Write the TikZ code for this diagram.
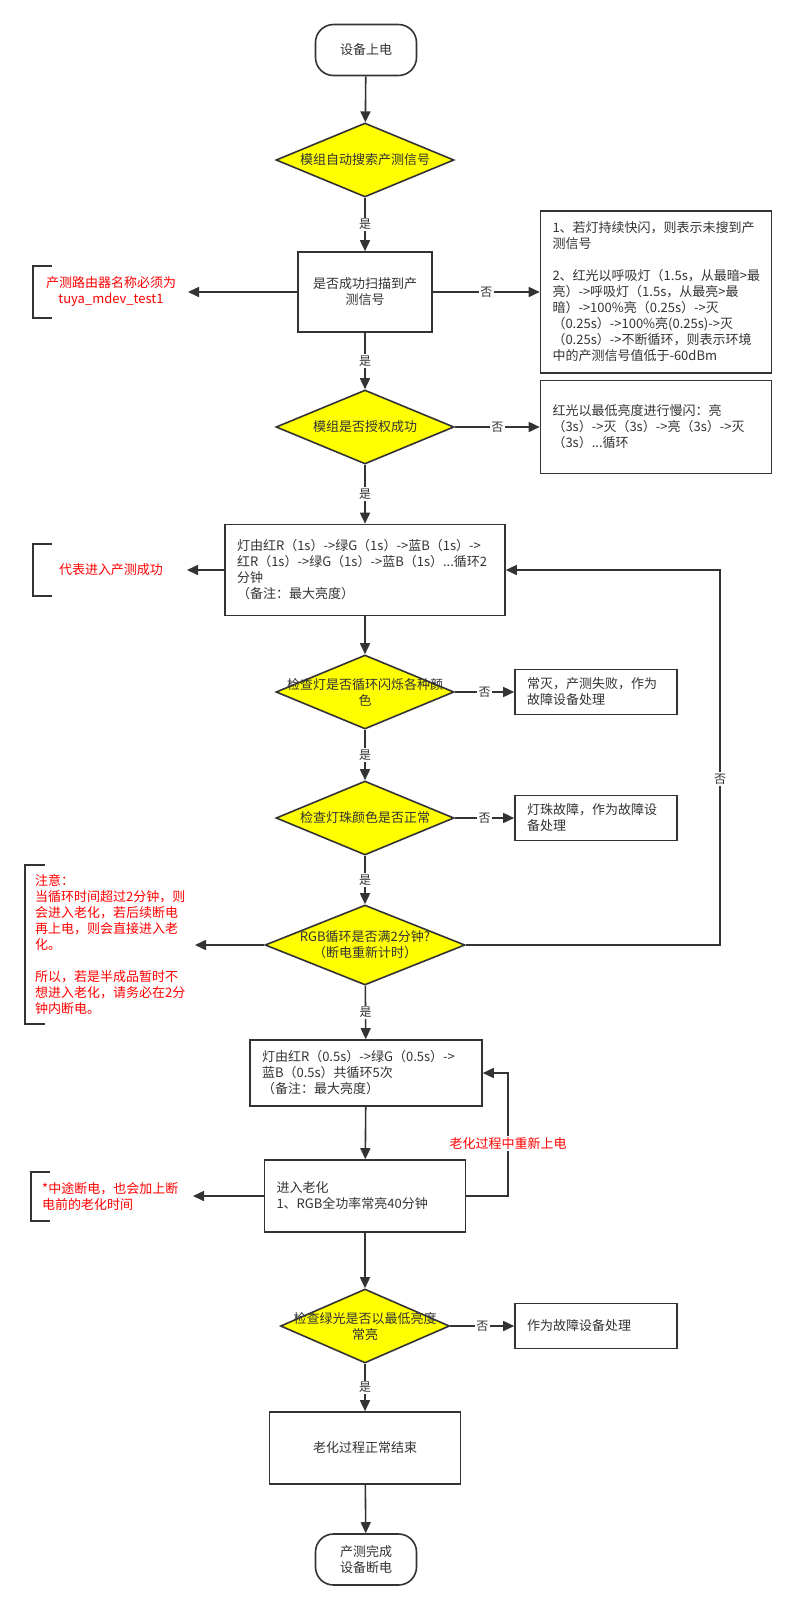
\documentclass[tikz,border=0pt]{standalone}
\usepackage{fontspec}
\setmainfont{Noto Sans CJK SC}
\usetikzlibrary{arrows.meta,shapes.geometric,calc}
\definecolor{lc}{HTML}{333333}
\definecolor{yel}{HTML}{FFFF00}
\definecolor{redt}{HTML}{FF0000}
\begin{document}
\begin{tikzpicture}[x=1pt,y=-1pt,
  every node/.style={font=\fontsize{13}{16}\selectfont, text=lc},
  ln/.style={draw=lc, line width=1.6pt},
  arr/.style={ln, -{Triangle[length=11pt,width=10pt]}},
  cbox/.style 2 args={draw=lc, line width=1.6pt, fill=white, inner sep=0pt, minimum width=#1, minimum height=#2, align=center},
  lbox/.style 2 args={draw=lc, line width=1.6pt, fill=white, inner xsep=12pt, inner ysep=0pt, text width=#1, minimum height=#2, align=left},
  decide/.style 2 args={diamond, draw=lc, fill=yel, line width=1.6pt, inner sep=0pt, minimum width=#1, minimum height=#2},
  dtext/.style={align=center, inner sep=0pt},
  term/.style={draw=lc, line width=1.6pt, fill=white, rounded corners=18pt, minimum width=101pt, minimum height=51pt, align=center, inner sep=0pt},
  yn/.style={fill=white, inner sep=1.5pt, font=\fontsize{12}{14}\selectfont},
  rednote/.style={text=redt, inner sep=0pt},
  brk/.style={draw=lc, line width=1.6pt}
]
\fill[white] (0,0) rectangle (796,1610);
\useasboundingbox (0,0) rectangle (796,1610);

% main column
\node[term] (start) at (366,50) {设备上电};
\node[decide={178pt}{74pt}] (d1) at (365,160) {};
\node[dtext] (d1t) at (d1) {模组自动搜索产测信号};
\node[cbox={134pt}{80pt}] (b1) at (365,292) {是否成功扫描到产\\测信号};
\node[decide={178pt}{74pt}] (d2) at (365,427) {};
\node[dtext] (d2t) at (d2) {模组是否授权成功};
\node[lbox={256pt}{91pt}] (b3) at (365,570) {灯由红R（1s）->绿G（1s）->蓝B（1s）->\\红R（1s）->绿G（1s）->蓝B（1s）...循环2\\分钟\\（备注：最大亮度）};
\node[decide={178pt}{74pt}] (d3) at (365,692) {};
\node[dtext] (d3t) at (d3) {检查灯是否循环闪烁各种颜\\色};
\node[decide={178pt}{74pt}] (d4) at (365,818) {};
\node[dtext] (d4t) at (d4) {检查灯珠颜色是否正常};
\node[decide={200pt}{80pt}] (d5) at (365,945) {};
\node[dtext] (d5t) at (d5) {RGB循环是否满2分钟?\\（断电重新计时）};
\node[lbox={208pt}{66pt}] (b5) at (366,1073) {灯由红R（0.5s）->绿G（0.5s）->\\蓝B（0.5s）共循环5次\\（备注：最大亮度）};
\node[lbox={177pt}{72pt}] (b6) at (365,1196) {进入老化\\1、RGB全功率常亮40分钟};
\node[decide={169pt}{74pt}] (d6) at (365,1326) {};
\node[dtext] (d6t) at (d6) {检查绿光是否以最低亮度\\常亮};
\node[cbox={191pt}{72pt}] (b7) at (365,1448) {老化过程正常结束};
\node[term] (end) at (366,1559.5) {产测完成\\设备断电};

% right boxes
\node[lbox={207pt}{162pt}] (r1) at (656,292) {1、若灯持续快闪，则表示未搜到产\\测信号\\[16pt]2、红光以呼吸灯（1.5s，从最暗>最\\亮）->呼吸灯（1.5s，从最亮>最\\暗）->100\%亮（0.25s）->灭\\（0.25s）->100\%亮(0.25s)->灭\\（0.25s）->不断循环，则表示环境\\中的产测信号值低于-60dBm};
\node[lbox={207pt}{93pt}] (r2) at (656,427) {红光以最低亮度进行慢闪：亮\\（3s）->灭（3s）->亮（3s）->灭\\（3s）...循环};
\node[lbox={138pt}{45pt}] (r3) at (596,692) {常灭，产测失败，作为\\故障设备处理};
\node[lbox={138pt}{45pt}] (r4) at (596,818) {灯珠故障，作为故障设\\备处理};
\node[lbox={138pt}{45pt}] (r6) at (596,1326) {作为故障设备处理};

% left notes
\draw[brk] (52,266) -- (33,266) -- (33,318) -- (52,318);
\node[rednote, align=center] (a1t) at (111,292) {产测路由器名称必须为\\tuya\_mdev\_test1};
\draw[brk] (52,544) -- (33,544) -- (33,596) -- (52,596);
\node[rednote] (a2t) at (111,570) {代表进入产测成功};
\draw[brk] (45,865) -- (25,865) -- (25,1024) -- (45,1024);
\node[rednote, align=left, anchor=west] (a3t) at (35,944.5) {注意：\\当循环时间超过2分钟，则\\会进入老化，若后续断电\\再上电，则会直接进入老\\化。\\[16pt]所以，若是半成品暂时不\\想进入老化，请务必在2分\\钟内断电。};
\draw[brk] (50,1172) -- (31,1172) -- (31,1221) -- (50,1221);
\node[rednote, align=left, anchor=west] (a4t) at (42,1196) {*中途断电，也会加上断\\电前的老化时间};

\coordinate (e1) at (188,292);
\coordinate (e2) at (187,570);
\coordinate (e3) at (195,945);
\coordinate (e4) at (193,1196);
\coordinate (lx1) at (720,0);
\coordinate (lx2) at (508,0);

% main arrows
\draw[arr] (start) -- (d1);
\draw[arr] (d1) -- node[yn] {是} (b1);
\draw[arr] (b1) -- node[yn] {是} (d2);
\draw[arr] (d2) -- node[yn] {是} (b3);
\draw[arr] (b3) -- (d3);
\draw[arr] (d3) -- node[yn] {是} (d4);
\draw[arr] (d4) -- node[yn] {是} (d5);
\draw[arr] (d5) -- node[yn] {是} (b5);
\draw[arr] (b5) -- (b6);
\draw[arr] (b6) -- (d6);
\draw[arr] (d6) -- node[yn] {是} (b7);
\draw[arr] (b7) -- (end);

% no branches
\draw[arr] (b1.east) -- node[yn] {否} (r1.west);
\draw[arr] (d2.east) -- node[yn] {否} (r2.west);
\draw[arr] (d3.east) -- node[yn] {否} (r3.west);
\draw[arr] (d4.east) -- node[yn] {否} (r4.west);
\draw[arr] (d6.east) -- node[yn] {否} (r6.west);

% left arrows
\draw[arr] (b1.west) -- (e1);
\draw[arr] (b3.west) -- (e2);
\draw[arr] (d5.west) -- (e3);
\draw[arr] (b6.west) -- (e4);

% loops
\draw[arr] (d5.east) -- (d5.east -| lx1) -- node[yn, pos=0.443] {否} (b3.east -| lx1) -- (b3.east);
\draw[arr] (b6.east) -- (b6.east -| lx2) -- node[rednote, fill=white, inner sep=1.5pt, pos=0.423] {老化过程中重新上电} (b5.east -| lx2) -- (b5.east);
\end{tikzpicture}
\end{document}
